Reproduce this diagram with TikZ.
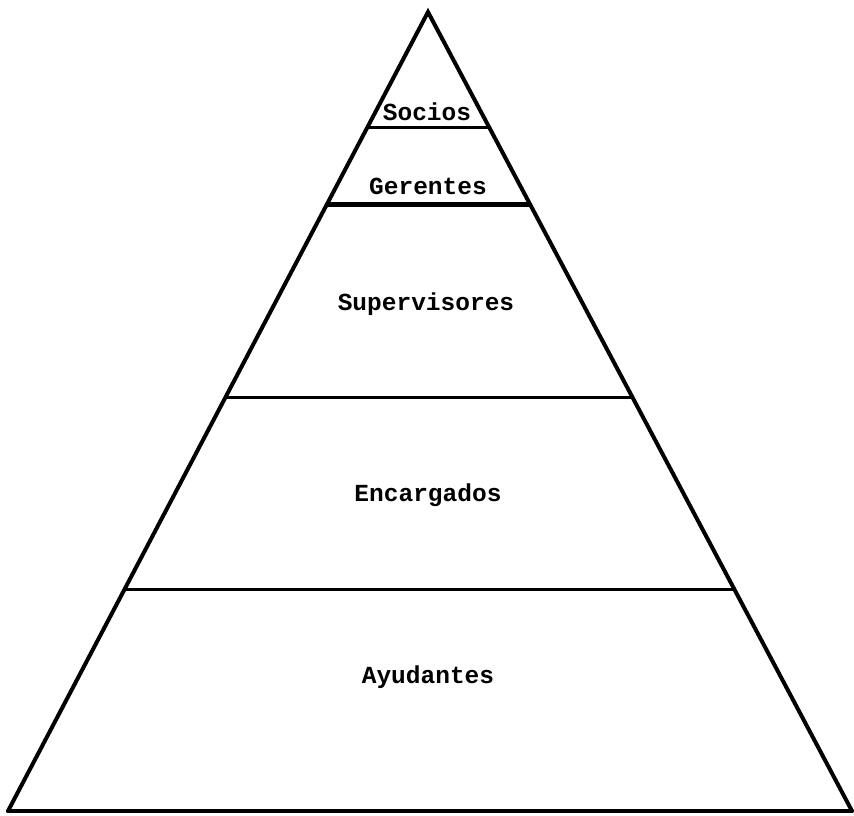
\documentclass[tikz,border=0pt]{standalone}
\usepackage{fontspec}
\setmonofont{Liberation Mono}
\usetikzlibrary{calc}
\begin{document}
\begin{tikzpicture}[x=1pt,y=-1pt,
  side/.style={line width=4pt,line join=miter,line cap=round},
  level/.style={line width=3.2pt},
  thicklevel/.style={line width=4.6pt},
  lbl/.style={font=\ttfamily\bfseries\fontsize{24.5}{28}\selectfont,inner sep=0pt}]
\useasboundingbox (0,0) rectangle (854,815);
\coordinate (apex) at (428,12);
\coordinate (bl) at (8,811);
\coordinate (br) at (852,811);
\draw[side] (bl) -- (apex) -- (br);
\draw[side] (bl) -- (br);
\draw[level] ($(apex)!0.1448!(bl)$) coordinate (s1) -- ($(apex)!0.1448!(br)$) coordinate (s2);
\draw[thicklevel] ($(apex)!0.241!(bl)$) coordinate (g1) -- ($(apex)!0.241!(br)$) coordinate (g2);
\draw[level] ($(apex)!0.482!(bl)$) coordinate (p1) -- ($(apex)!0.482!(br)$) coordinate (p2);
\draw[level] ($(apex)!0.723!(bl)$) coordinate (e1) -- ($(apex)!0.723!(br)$) coordinate (e2);
\node[lbl] (socios) at (427,112) {Socios};
\node[lbl] (gerentes) at (428,186) {Gerentes};
\node[lbl] (superv) at (426,304) {Supervisores};
\node[lbl] (encarg) at (428,495) {Encargados};
\node[lbl] (ayud) at (428,677) {Ayudantes};
\end{tikzpicture}
\end{document}
